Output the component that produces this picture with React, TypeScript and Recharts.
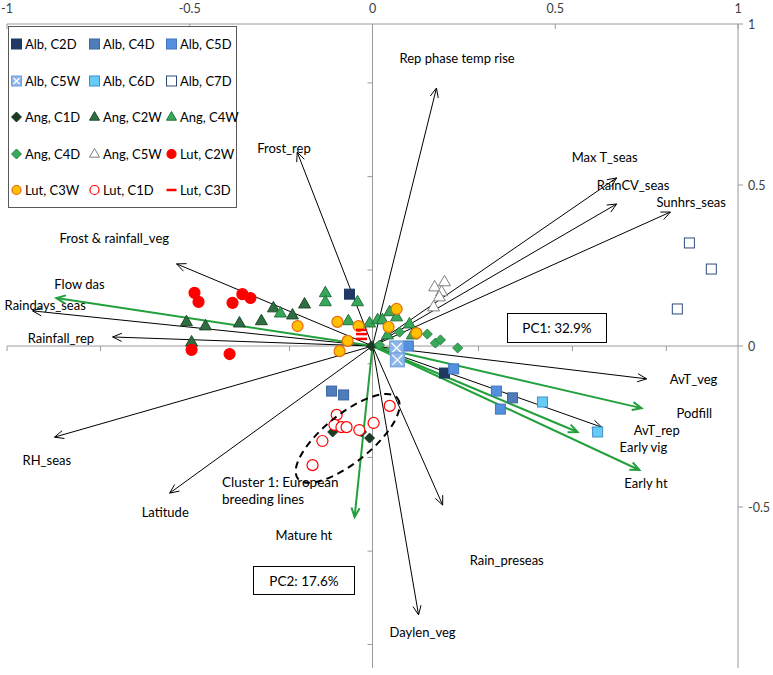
import React from 'react';
import { ScatterChart, Scatter, XAxis, YAxis, ReferenceLine } from 'recharts';

// variable loadings (arrow tips), environment variables
const envNames = ['Rep phase temp rise', 'Frost_rep', 'Max T_seas', 'RainCV_seas', 'Sunhrs_seas', 'Frost & rainfall_veg', 'Raindays_seas', 'Rainfall_rep', 'AvT_veg', 'AvT_rep', 'RH_seas', 'Latitude', 'Rain_preseas', 'Daylen_veg'];
const envX = [0.175, -0.206, 0.668, 0.668, 0.815, -0.536, -0.93, -0.711, 0.75, 0.627, -0.87, -0.555, 0.192, 0.126];
const envY = [0.801, 0.602, 0.522, 0.441, 0.416, 0.255, 0.109, 0.028, -0.102, -0.252, -0.283, -0.457, -0.494, -0.835];

// trait loadings (green arrows)
const traitNames = ['Flow das', 'Podfill', 'Early vig', 'Early ht', 'Mature ht'];
const traitX = [-0.865, 0.736, 0.561, 0.73, -0.049];
const traitY = [0.149, -0.193, -0.267, -0.385, -0.531];

// label offsets from arrow tip, px
const envLabelDx = [-37, -40, -45, -20, -14, -117, -28, -85, 23, 32, -32, -28, 27, -29];
const envLabelDy = [-30, -4, -21, -19, -10, -26, -6, 1, 0, 3, 23, 19, 55, 17];
const traitLabelDx = [-2, 35, 42, -15, -79];
const traitLabelDy = [-14, 5, 15, 13, 18];

// scores by group [x, y]
const albC2D = [[-0.063, 0.161], [0.197, -0.084]];
const albC4D = [[-0.112, -0.14], [-0.079, -0.152], [0.383, -0.161]];
const albC5D = [[0.098, 0.0], [0.222, -0.071], [0.339, -0.14], [0.35, -0.196]];
const albC5W = [[0.066, -0.006], [0.068, -0.043]];
const albC6D = [[0.465, -0.174], [0.616, -0.267]];
const albC7D = [[0.867, 0.32], [0.927, 0.239], [0.834, 0.115]];
const angC1D = [[-0.109, -0.267], [-0.03, -0.267], [-0.008, -0.286], [-0.003, 0.0]];
const angC2W = [[-0.509, 0.075], [-0.457, 0.062], [-0.495, 0.012], [-0.364, 0.071], [-0.304, 0.078], [-0.271, 0.118], [-0.219, 0.096], [-0.186, 0.13]];
const angC4W = [[-0.129, 0.165], [-0.129, 0.137], [-0.252, 0.102], [-0.066, 0.078], [-0.041, 0.137], [-0.008, 0.071], [0.014, 0.081], [0.027, 0.081], [0.047, 0.106], [0.066, 0.09], [0.101, 0.068], [0.041, 0.034], [0.109, 0.034]];
const angC4D = [[0.074, 0.043], [0.15, 0.037], [0.172, 0.009], [0.186, 0.019], [0.233, -0.006], [0.019, 0.003]];
const angC5W = [[0.17, 0.183], [0.197, 0.199], [0.189, 0.168], [0.183, 0.152], [0.167, 0.121]];
const lutC2W = [[-0.487, 0.165], [-0.476, 0.137], [-0.383, 0.134], [-0.356, 0.161], [-0.334, 0.149], [-0.495, -0.012], [-0.391, -0.025]];
const lutC3W = [[-0.205, 0.062], [-0.096, 0.075], [-0.038, 0.062], [-0.068, 0.016], [-0.09, -0.016], [0.066, 0.115], [0.044, 0.059], [0.12, 0.04]];
const lutC1D = [[-0.098, -0.214], [-0.104, -0.245], [-0.085, -0.252], [-0.071, -0.252], [-0.036, -0.261], [0.003, -0.239], [0.047, -0.186], [-0.137, -0.295], [-0.164, -0.37]];
const lutC3D = [[-0.03, 0.05], [-0.03, 0.037], [-0.03, 0.022]];

const groupNames = ['Alb, C2D', 'Alb, C4D', 'Alb, C5D', 'Alb, C5W', 'Alb, C6D', 'Alb, C7D', 'Ang, C1D', 'Ang, C2W', 'Ang, C4W', 'Ang, C4D', 'Ang, C5W', 'Lut, C2W', 'Lut, C3W', 'Lut, C1D', 'Lut, C3D'];
const groupData = [albC2D, albC4D, albC5D, albC5W, albC6D, albC7D, angC1D, angC2W, angC4W, angC4D, angC5W, lutC2W, lutC3W, lutC1D, lutC3D];

// tick values
const axisTicks = [-1, -0.5, 0, 0.5, 1];
const originXTicks = [-1, -0.744, -0.484, -0.227, 0.03, 0.29, 0.547, 0.804];
const originYTicks = [0.817, 0.526, 0.236, -0.055, -0.346, -0.637, -0.927];

// centre of the cluster ellipse
const clusterCentre = [[-0.068, -0.287]];

const styles = [
  { kind: 'square', fill: '#1F3864', stroke: '#1F3864', size: 10 },
  { kind: 'square', fill: '#4F7DBA', stroke: '#3B64A0', size: 10 },
  { kind: 'square', fill: '#5390DD', stroke: '#4277C0', size: 10 },
  { kind: 'xsquare', fill: '#8DB5EA', stroke: '#6E9FDE', size: 14 },
  { kind: 'square', fill: '#66CCF5', stroke: '#3E8FC8', size: 10 },
  { kind: 'square', fill: '#FFFFFF', stroke: '#2F4A7A', size: 10 },
  { kind: 'diamond', fill: '#1B3A24', stroke: '#1B3A24', size: 10 },
  { kind: 'triangle', fill: '#2E6E40', stroke: '#1E4A2A', size: 12 },
  { kind: 'triangle', fill: '#37A85A', stroke: '#22733A', size: 12 },
  { kind: 'diamond', fill: '#38A958', stroke: '#2A8444', size: 10 },
  { kind: 'triangle', fill: '#FFFFFF', stroke: '#7F7F7F', size: 12 },
  { kind: 'circle', fill: '#FF0000', stroke: '#FF0000', size: 12 },
  { kind: 'circle', fill: '#FFC000', stroke: '#E46C0A', size: 12 },
  { kind: 'circle', fill: '#FFFFFF', stroke: '#FF0000', size: 12 },
  { kind: 'dash', fill: '#FF0000', stroke: '#FF0000', size: 11 },
];

const FONT = 'Lato, "Noto Sans", sans-serif';
const GREEN = '#22A03C';
const AXIS = '#9A9A9A';

function Marker({ kind, cx, cy, fill, stroke, size }: any) {
  const h = size / 2;
  if (kind === 'square') return <rect x={cx - h} y={cy - h} width={size} height={size} fill={fill} stroke={stroke} strokeWidth={1} />;
  if (kind === 'xsquare') {
    const k = h - 2;
    return (
      <g>
        <rect x={cx - h} y={cy - h} width={size} height={size} fill={fill} stroke={stroke} strokeWidth={1} />
        <path d={`M${cx - k},${cy - k}L${cx + k},${cy + k}M${cx + k},${cy - k}L${cx - k},${cy + k}`} stroke="#FFFFFF" strokeWidth={1.3} />
      </g>
    );
  }
  if (kind === 'diamond') return <path d={`M${cx},${cy - h}L${cx + h},${cy}L${cx},${cy + h}L${cx - h},${cy}Z`} fill={fill} stroke={stroke} strokeWidth={1} />;
  if (kind === 'triangle') {
    return <path d={`M${cx},${cy - size * 0.55}L${cx + h},${cy + size * 0.32}L${cx - h},${cy + size * 0.32}Z`} fill={fill} stroke={stroke} strokeWidth={1} />;
  }
  if (kind === 'circle') return <circle cx={cx} cy={cy} r={h - 0.5} fill={fill} stroke={stroke} strokeWidth={1.2} />;
  return <line x1={cx - h} x2={cx + h} y1={cy} y2={cy} stroke={stroke} strokeWidth={2.5} />;
}

function arrowShape(label: string, color: string, width: number, dx: number, dy: number) {
  return (p: any) => {
    const { x1, y1, x2, y2 } = p;
    const a = Math.atan2(y2 - y1, x2 - x1);
    const L = 10;
    const phi = 0.42;
    const pts = `${x2 - L * Math.cos(a - phi)},${y2 - L * Math.sin(a - phi)} ${x2},${y2} ${x2 - L * Math.cos(a + phi)},${y2 - L * Math.sin(a + phi)}`;
    return (
      <g>
        <line x1={x1} y1={y1} x2={x2} y2={y2} stroke={color} strokeWidth={width} />
        <polyline points={pts} fill="none" stroke={color} strokeWidth={width} />
        <text x={x2 + dx} y={y2 + dy} dominantBaseline="central" fontSize={13} fontFamily={FONT} fill="#000">{label}</text>
      </g>
    );
  };
}

const TopTick = ({ x, y, payload }: any) => (
  <g>
    <line x1={x} x2={x} y1={y + 10} y2={y + 15} stroke={AXIS} />
    <text x={x} y={y - 1} textAnchor="middle" fontSize={12.5} fill="#404040" fontFamily={FONT}>{payload.value}</text>
  </g>
);

const RightTick = ({ x, y, payload }: any) => (
  <text x={x} y={y} dominantBaseline="central" fontSize={12.5} fill="#404040" fontFamily={FONT}>{payload.value}</text>
);

const ellipseShape = (p: any) => (
  <ellipse cx={p.cx} cy={p.cy} rx={64} ry={24} transform={`rotate(-39 ${p.cx} ${p.cy})`} fill="none" stroke="#000" strokeWidth={2} strokeDasharray="7 5" />
);

function Legend() {
  const colX = [0, 78, 155];
  return (
    <div style={{ position: 'absolute', left: 8, top: 26, width: 229, height: 182, border: '1px solid #595959', background: '#fff', boxSizing: 'border-box' }}>
      {groupNames.map((name, i) => {
        const col = i % 3;
        const row = Math.floor(i / 3);
        return (
          <div key={name} style={{ position: 'absolute', left: colX[col] + 1, top: 9 + row * 36.5, display: 'flex', alignItems: 'center', fontFamily: FONT, fontSize: 13, whiteSpace: 'nowrap' }}>
            <svg width={13} height={16}>
              <Marker {...styles[i]} size={Math.min(styles[i].size, 10)} cx={6.5} cy={8} />
            </svg>
            <span style={{ marginLeft: 2 }}>{name}</span>
          </div>
        );
      })}
    </div>
  );
}

export default function App() {
  return (
    <div style={{ position: 'absolute', left: 0, top: 0, width: 773, height: 675, background: '#fff', fontFamily: FONT }}>
      <ScatterChart width={773} height={675} margin={{ top: 0, right: 0, bottom: 7, left: 7 }}>
        <XAxis type="number" dataKey="x" domain={[-1, 1]} ticks={axisTicks} orientation="top" height={24}
          axisLine={{ stroke: AXIS }} tickLine={false} tickSize={0} tickMargin={10} tick={TopTick} allowDataOverflow />
        <YAxis type="number" dataKey="y" domain={[-1, 1]} ticks={axisTicks} orientation="right" width={35}
          axisLine={{ stroke: AXIS }} tickLine={{ stroke: AXIS }} tickSize={5} tickMargin={5} tick={RightTick} allowDataOverflow />
        <ReferenceLine x={0} stroke={AXIS} />
        <ReferenceLine y={0} stroke={AXIS} />
        {originXTicks.map((v) => (
          <ReferenceLine key={'ox' + v} segment={[{ x: v, y: 0 }, { x: v, y: -0.0155 }]} stroke={AXIS} />
        ))}
        {originYTicks.map((v) => (
          <ReferenceLine key={'oy' + v} segment={[{ x: 0, y: v }, { x: -0.0137, y: v }]} stroke={AXIS} />
        ))}
        {groupNames.map((name, i) => (
          <Scatter key={name} name={name} data={groupData[i].map(([x, y]) => ({ x, y }))} isAnimationActive={false}
            shape={(p: any) => <Marker {...styles[i]} cx={p.cx} cy={p.cy} />} />
        ))}
        <Scatter name="cluster" data={clusterCentre.map(([x, y]) => ({ x, y }))} isAnimationActive={false} shape={ellipseShape} legendType="none" />
        {envNames.map((n, i) => (
          <ReferenceLine key={n} segment={[{ x: 0, y: 0 }, { x: envX[i], y: envY[i] }]} ifOverflow="visible"
            shape={arrowShape(n, '#000', 1, envLabelDx[i], envLabelDy[i])} />
        ))}
        {traitNames.map((n, i) => (
          <ReferenceLine key={n} segment={[{ x: 0, y: 0 }, { x: traitX[i], y: traitY[i] }]} ifOverflow="visible"
            shape={arrowShape(n, GREEN, 2, traitLabelDx[i], traitLabelDy[i])} />
        ))}
      </ScatterChart>
      <Legend />
      <div style={{ position: 'absolute', left: 507, top: 313, width: 100, height: 30, border: '1px solid #000', boxSizing: 'border-box', display: 'flex', alignItems: 'center', justifyContent: 'center', fontSize: 13.5, background: '#fff' }}>PC1: 32.9%</div>
      <div style={{ position: 'absolute', left: 253, top: 566, width: 102, height: 29, border: '1px solid #000', boxSizing: 'border-box', display: 'flex', alignItems: 'center', justifyContent: 'center', fontSize: 13.5, background: '#fff' }}>PC2: 17.6%</div>
      <div style={{ position: 'absolute', left: 222, top: 474, fontSize: 13.5, lineHeight: '17px' }}>
        Cluster 1: European<br />breeding lines
      </div>
    </div>
  );
}
